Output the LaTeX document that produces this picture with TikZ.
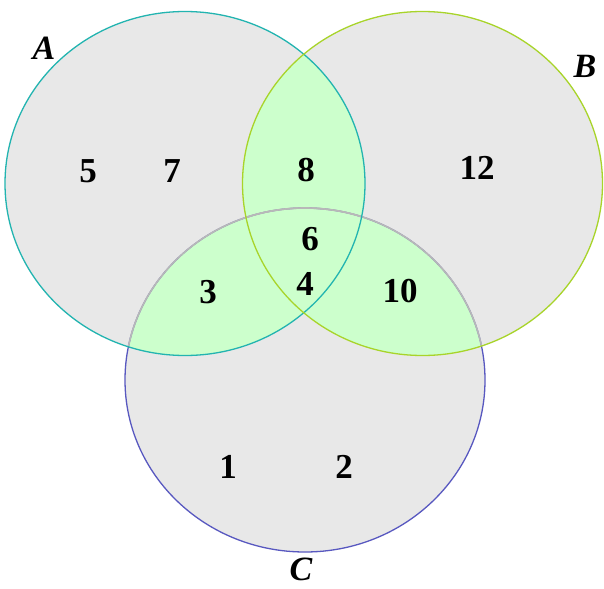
\documentclass[tikz,border=0pt]{standalone}
\usepackage{fontspec}
\setmainfont{Liberation Serif}
\begin{document}
\begin{tikzpicture}[x=1pt,y=-1pt,
  num/.style={font=\fontsize{35}{35}\selectfont\bfseries, text=black, inner sep=0pt},
  setlbl/.style={font=\fontsize{34}{34}\selectfont\bfseries\itshape, text=black, inner sep=0pt}
]
\definecolor{vgray}{HTML}{E8E8E8}
\definecolor{vgreen}{HTML}{CCFFCC}
\definecolor{aline}{HTML}{22B4B0}
\definecolor{bline}{HTML}{A8D42A}
\definecolor{cline}{HTML}{5858C0}
\definecolor{inner}{HTML}{B8B8B8}
\useasboundingbox (0,0) rectangle (604,588);
\fill[white] (0,0) rectangle (604,588);
\coordinate (ca) at (185,183.5);
\coordinate (cb) at (422.5,183.5);
\coordinate (cc) at (305,380);
\def\rx{180}\def\ry{172}
% gray fills
\fill[vgray] (ca) ellipse [x radius=\rx, y radius=\ry];
\fill[vgray] (cb) ellipse [x radius=\rx, y radius=\ry];
\fill[vgray] (cc) ellipse [x radius=\rx, y radius=\ry];
% green intersections
\begin{scope}
  \clip (ca) ellipse [x radius=\rx, y radius=\ry];
  \fill[vgreen] (cb) ellipse [x radius=\rx, y radius=\ry];
  \fill[vgreen] (cc) ellipse [x radius=\rx, y radius=\ry];
\end{scope}
\begin{scope}
  \clip (cb) ellipse [x radius=\rx, y radius=\ry];
  \fill[vgreen] (cc) ellipse [x radius=\rx, y radius=\ry];
\end{scope}
% outlines
\draw[cline, line width=1.3pt] (cc) ellipse [x radius=\rx, y radius=\ry];
\begin{scope}
  \clip (ca) ellipse [x radius=\rx, y radius=\ry];
  \draw[inner, line width=1.6pt] (cc) ellipse [x radius=\rx, y radius=\ry];
\end{scope}
\begin{scope}
  \clip (cb) ellipse [x radius=\rx, y radius=\ry];
  \draw[inner, line width=1.6pt] (cc) ellipse [x radius=\rx, y radius=\ry];
\end{scope}
\draw[aline, line width=1.3pt] (ca) ellipse [x radius=\rx, y radius=\ry];
\draw[bline, line width=1.3pt] (cb) ellipse [x radius=\rx, y radius=\ry];
% set labels
\node[setlbl] (lA) at (44,48) {A};
\node[setlbl] (lB) at (585,66) {B};
\node[setlbl] (lC) at (301,569) {C};
% numbers
\node[num] (n5) at (88,171) {5};
\node[num] (n7) at (172,171) {7};
\node[num] (n8) at (306,170) {8};
\node[num] (n12) at (477,168) {12};
\node[num] (n6) at (310,239) {6};
\node[num] (n3) at (208,292) {3};
\node[num] (n4) at (305,284) {4};
\node[num] (n10) at (400,291) {10};
\node[num] (n1) at (228,467) {1};
\node[num] (n2) at (344,467) {2};
\end{tikzpicture}
\end{document}
